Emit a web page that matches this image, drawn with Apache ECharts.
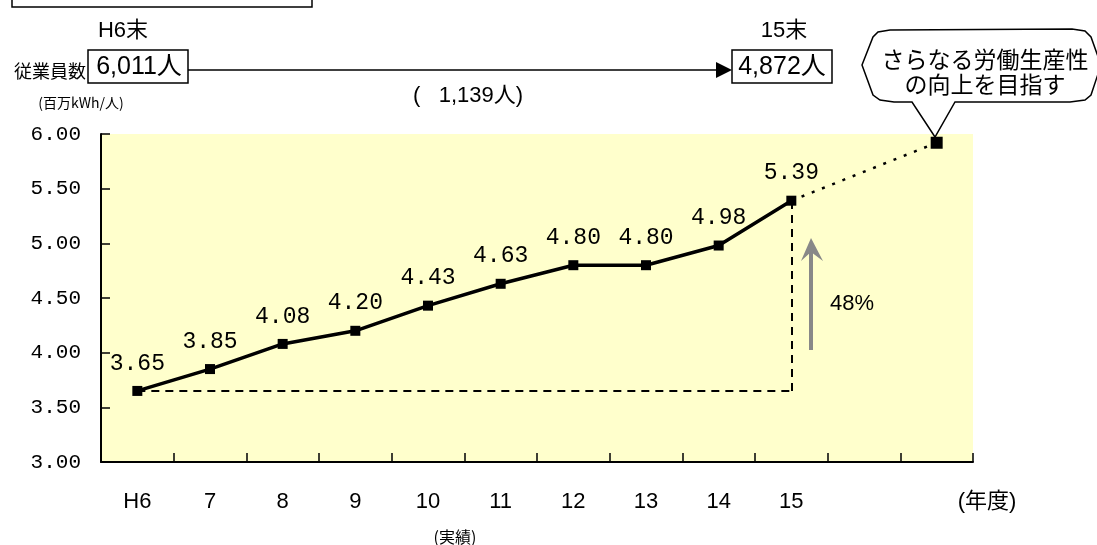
<!DOCTYPE html>
<html>
<head>
<meta charset="utf-8">
<script src="https://cdn.jsdelivr.net/npm/echarts@6/dist/echarts.min.js"></script>
<style>
  html, body { margin: 0; padding: 0; background: #ffffff; }
  #chart { width: 1097px; height: 545px; }
</style>
</head>
<body>
<div id="chart"></div>
<script>
// 年度（実績 H6〜15 と目標年度）
const categories = ['H6', '7', '8', '9', '10', '11', '12', '13', '14', '15', '', ''];
// 従業員1人当たり販売電力量（百万kWh/人）
const actualValues = [3.65, 3.85, 4.08, 4.20, 4.43, 4.63, 4.80, 4.80, 4.98, 5.39];
const targetValue = 5.92;
const targetIndex = 11;
// 従業員数
const staffStart = 6011;
const staffEnd = 4872;
const staffLabels = ['H6末', '15末'];
const growthLabel = '48%';
const yTicks = [3.0, 3.5, 4.0, 4.5, 5.0, 5.5, 6.0];

const sansFont = "'Liberation Sans', 'Noto Sans CJK JP', sans-serif";
const monoFont = "'Liberation Mono', 'DejaVu Sans Mono', monospace";
const cjkFont = "'Noto Sans CJK JP', sans-serif";

const fmt = n => n.toLocaleString('en-US');

const lastIdx = actualValues.length - 1;
const firstVal = actualValues[0];
const lastVal = actualValues[lastIdx];
const yMin = yTicks[0];
const yMax = yTicks[yTicks.length - 1];

// 点線：最終実績から目標へ
const targetSeries = categories.map((c, i) => {
  if (i === lastIdx) return lastVal;
  if (i === targetIndex) return targetValue;
  return null;
});

// 吹き出しの輪郭
const bubblePoints = [
  [862, 65], [873, 37], [878, 32], [890, 30], [1072, 29], [1085, 31], [1091, 37],
  [1101, 65], [1091, 95], [1085, 100], [1070, 102], [955, 102], [935, 137],
  [912, 102], [894, 102], [880, 100], [873, 95]
];

const chart = echarts.init(document.getElementById('chart'), null, { renderer: 'canvas' });

chart.setOption({
  animation: false,
  backgroundColor: '#ffffff',
  grid: {
    left: 101, right: 124, top: 134, bottom: 83,
    show: false
  },
  xAxis: {
    type: 'category',
    data: categories,
    boundaryGap: true,
    z: 6,
    axisLine: { lineStyle: { color: '#000', width: 2 } },
    axisTick: { show: true, inside: true, length: 9, lineStyle: { color: '#000', width: 1.5 } },
    axisLabel: { color: '#000', fontFamily: sansFont, fontSize: 22, margin: 29, interval: 0 },
    splitLine: { show: false }
  },
  yAxis: {
    type: 'value',
    min: yMin,
    max: yMax,
    interval: 0.5,
    z: 6,
    axisLine: { show: true, lineStyle: { color: '#000', width: 2 } },
    axisTick: { show: true, inside: true, length: 9, lineStyle: { color: '#000', width: 1.5 } },
    axisLabel: { color: '#000', fontFamily: monoFont, fontSize: 21, margin: 20,
      formatter: v => v.toFixed(2) },
    splitLine: { show: false }
  },
  series: [
    {
      name: '実績',
      type: 'line',
      data: actualValues,
      symbol: 'rect',
      symbolSize: 10,
      itemStyle: { color: '#000' },
      lineStyle: { color: '#000', width: 3.5 },
      label: {
        show: true, position: 'top', distance: 11,
        color: '#000', fontFamily: monoFont, fontSize: 23,
        formatter: p => p.value.toFixed(2)
      },
      markLine: {
        silent: true,
        symbol: 'none',
        label: { show: false },
        lineStyle: { color: '#000', width: 2, type: [8, 6] },
        data: [
          [{ coord: [categories[0], firstVal] }, { coord: [categories[lastIdx], firstVal] }],
          [{ coord: [categories[lastIdx], firstVal] }, { coord: [categories[lastIdx], lastVal] }]
        ]
      },
      z: 3
    },
    {
      name: '目標',
      type: 'line',
      data: targetSeries,
      connectNulls: true,
      symbol: 'rect',
      symbolSize: (v, p) => (p.dataIndex === targetIndex ? 12 : 0),
      itemStyle: { color: '#000' },
      lineStyle: { color: '#000', width: 2.5, type: [3, 8] },
      // 描画領域の背景
      markArea: {
        silent: true,
        itemStyle: { color: '#FFFFCC' },
        data: [[{ yAxis: yMin }, { yAxis: yMax }]]
      },
      z: 2
    }
  ],
  graphic: [
    // 上部の枠
    { type: 'rect', shape: { x: 12, y: -4, width: 300, height: 11 },
      style: { fill: 'none', stroke: '#000', lineWidth: 1.5 } },
    // 従業員数
    { type: 'text', x: 50, y: 71,
      style: { text: '従業員数', font: "18px " + cjkFont, fill: '#000',
        align: 'center', verticalAlign: 'middle' } },
    { type: 'text', x: 123, y: 31,
      style: { text: staffLabels[0], font: "22px " + sansFont, fill: '#000',
        align: 'center', verticalAlign: 'middle' } },
    { type: 'rect', shape: { x: 88, y: 50, width: 100, height: 33 },
      style: { fill: '#fff', stroke: '#000', lineWidth: 1.5 } },
    { type: 'text', x: 139, y: 67,
      style: { text: fmt(staffStart) + '人', font: "25px " + sansFont, fill: '#000',
        align: 'center', verticalAlign: 'middle' } },
    { type: 'line', shape: { x1: 188, y1: 70, x2: 722, y2: 70 },
      style: { stroke: '#000', lineWidth: 1.5 } },
    { type: 'polygon', shape: { points: [[716, 62], [732, 70], [716, 78]] },
      style: { fill: '#000' } },
    { type: 'text', x: 468, y: 96,
      style: { text: '(   ' + fmt(staffStart - staffEnd) + '人)', font: "22px " + sansFont,
        fill: '#000', align: 'center', verticalAlign: 'middle' } },
    { type: 'text', x: 784, y: 31,
      style: { text: staffLabels[1], font: "22px " + sansFont, fill: '#000',
        align: 'center', verticalAlign: 'middle' } },
    { type: 'rect', shape: { x: 732, y: 50, width: 100, height: 33 },
      style: { fill: '#fff', stroke: '#000', lineWidth: 1.5 } },
    { type: 'text', x: 782, y: 67,
      style: { text: fmt(staffEnd) + '人', font: "25px " + sansFont, fill: '#000',
        align: 'center', verticalAlign: 'middle' } },
    // 単位
    { type: 'text', x: 81, y: 103,
      style: { text: '(百万kWh/人)', font: "14px " + cjkFont, fill: '#000',
        align: 'center', verticalAlign: 'middle' } },
    // 吹き出し
    { type: 'polygon', z: 10, shape: { points: bubblePoints },
      style: { fill: '#fff', stroke: '#000', lineWidth: 1.5 } },
    { type: 'text', z: 11, x: 985, y: 72,
      style: { text: 'さらなる労働生産性\nの向上を目指す', font: "23px " + cjkFont, fill: '#000',
        align: 'center', verticalAlign: 'middle', lineHeight: 25 } },
    // 伸び率の矢印
    { type: 'line', z: 5, shape: { x1: 811, y1: 350, x2: 811, y2: 250 },
      style: { stroke: '#888', lineWidth: 4 } },
    { type: 'polygon', z: 5, shape: { points: [[801, 261], [811, 238], [823, 261], [811, 252]] },
      style: { fill: '#888' } },
    { type: 'text', z: 5, x: 852, y: 304,
      style: { text: growthLabel, font: "22px " + sansFont, fill: '#000',
        align: 'center', verticalAlign: 'middle' } },
    // 軸ラベル補足
    { type: 'text', x: 987, y: 502,
      style: { text: '(年度)', font: "22px " + sansFont, fill: '#000',
        align: 'center', verticalAlign: 'middle' } },
    { type: 'text', x: 455, y: 537,
      style: { text: '(実績)', font: "16px " + cjkFont, fill: '#000',
        align: 'center', verticalAlign: 'middle' } }
  ]
});
</script>
</body>
</html>
